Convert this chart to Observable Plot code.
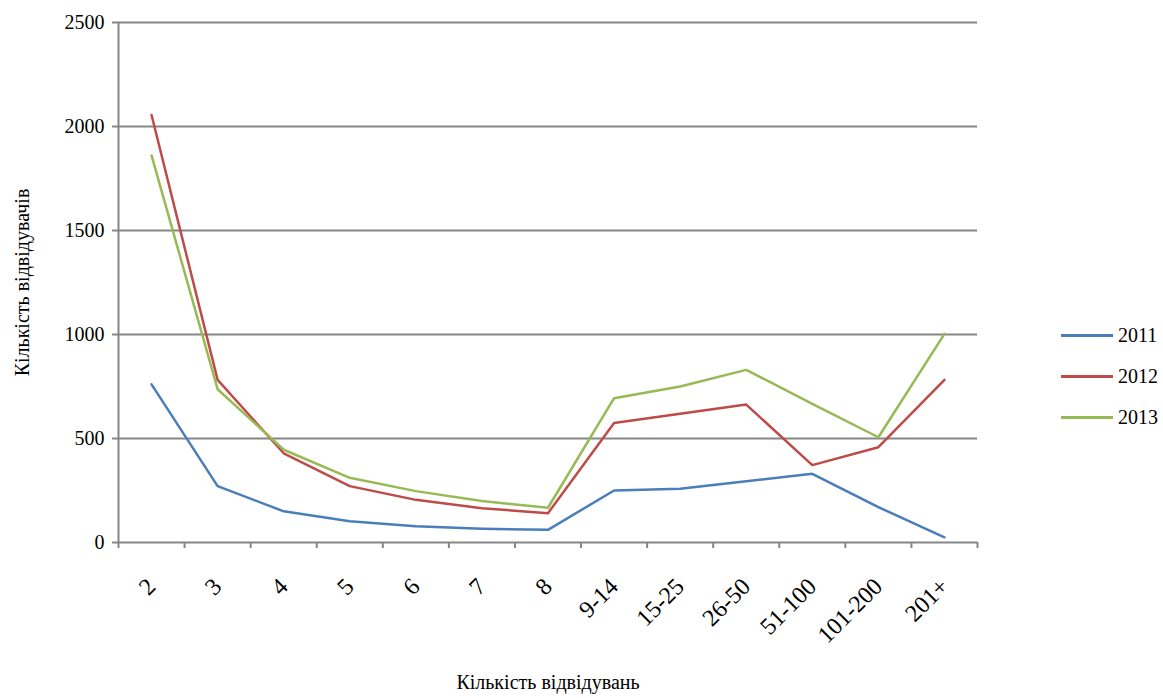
<!DOCTYPE html>
<html>
<head>
<meta charset="utf-8">
<script src="https://cdn.jsdelivr.net/npm/d3@7"></script>
<script src="https://cdn.jsdelivr.net/npm/@observablehq/plot@0.6"></script>
<style>
  html, body { margin: 0; padding: 0; background: #fff; }
  #wrap { position: relative; width: 1163px; height: 698px; font-family: "Liberation Serif", "Times New Roman", serif; }
  #wrap svg, #wrap svg text { font-family: "Liberation Serif", "Times New Roman", serif !important; }
  #legend { position: absolute; left: 1061px; top: 315px; font-size: 20px; color: #000; font-family: "Liberation Serif", serif; }
  .li { display: flex; align-items: center; height: 41px; }
  .sw { width: 52px; height: 3px; margin-right: 5px; }
</style>
</head>
<body>
<div id="wrap"></div>
<script>
const categories = ["2","3","4","5","6","7","8","9-14","15-25","26-50","51-100","101-200","201+"];
const years = ["2011","2012","2013"];
const values2011 = [760, 271, 150, 102, 78, 66, 61, 250, 258, 295, 330, 170, 25];
const values2012 = [2055, 782, 429, 271, 205, 165, 141, 574, 619, 663, 372, 458, 782];
const values2013 = [1861, 737, 446, 311, 247, 199, 167, 694, 750, 830, 667, 506, 1003];
const yTicks = [0, 500, 1000, 1500, 2000, 2500];
const colors = ["#4a7ebb", "#be4b48", "#98b954"];
const xTitle = "Кількість відвідувань";
const yTitle = "Кількість відвідувачів";

const seriesValues = [values2011, values2012, values2013];
const data = [];
years.forEach((yr, k) => seriesValues[k].forEach((v, i) => data.push({year: yr, i, v})));
const idx = categories.map((_, i) => i);
const bounds = d3.range(categories.length + 1).map(i => i - 0.5);
const grey = "#868686";
const serif = "Liberation Serif";

const chart = Plot.plot({
  width: 1163,
  height: 698,
  marginLeft: 118,
  marginRight: 186,
  marginTop: 22,
  marginBottom: 156,
  style: {fontFamily: serif, background: "#fff", color: "#000"},
  x: {type: "linear", domain: [-0.5, categories.length - 0.5]},
  y: {domain: [0, 2500]},
  color: {domain: years, range: colors},
  marks: [
    Plot.ruleY(yTicks, {stroke: grey, strokeWidth: 2}),
    Plot.ruleX([bounds[0]], {stroke: grey, strokeWidth: 2}),
    Plot.axisY({ticks: yTicks, tickSize: 6, tickPadding: 8, fontSize: 20, fontFamily: serif, stroke: grey, strokeWidth: 2, fill: "#000", label: null, tickFormat: d => String(d)}),
    Plot.axisX({ticks: bounds, tickSize: 6, tickFormat: () => "", stroke: grey, strokeWidth: 2, label: null}),
    Plot.axisX({ticks: idx, tickSize: 0, tickPadding: 40, tickRotate: -45, fontSize: 24, fontFamily: serif, fill: "#000", label: null, tickFormat: i => categories[i]}),
    Plot.line(data, {x: "i", y: "v", z: "year", stroke: "year", strokeWidth: 2.5}),
    Plot.text([xTitle], {frameAnchor: "bottom", dy: 146, fontSize: 20, fontFamily: serif, fill: "#000"}),
    Plot.text([yTitle], {frameAnchor: "left", textAnchor: "middle", dx: -96, rotate: -90, fontSize: 20, fontFamily: serif, fill: "#000"})
  ]
});
const wrap = document.getElementById("wrap");
wrap.appendChild(chart);
const leg = document.createElement("div");
leg.id = "legend";
years.forEach((yr, k) => {
  const row = document.createElement("div");
  row.className = "li";
  const sw = document.createElement("span");
  sw.className = "sw";
  sw.style.background = colors[k];
  const t = document.createElement("span");
  t.textContent = yr;
  row.appendChild(sw); row.appendChild(t);
  leg.appendChild(row);
});
wrap.appendChild(leg);
</script>
</body>
</html>
